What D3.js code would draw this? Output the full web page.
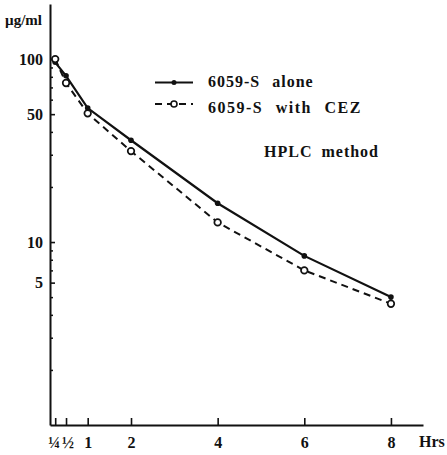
<!DOCTYPE html>
<html><head><meta charset="utf-8">
<script src="https://cdn.jsdelivr.net/npm/d3@7"></script>
<style>
html,body{margin:0;padding:0;background:#fff;}
svg{display:block;}
text{font-family:"Liberation Serif","DejaVu Serif",serif;font-weight:bold;fill:#111;}
</style>
</head><body>
<svg id="chart" width="447" height="455"></svg>
<script>
// ---- data ----
const hours = [0.25, 0.5, 1, 2, 4, 6, 8];
const aloneValues = [96, 81, 54, 36, 16.3, 8.4, 5.0];
const withCezValues = [100, 74, 50.5, 31.4, 12.8, 7.0, 4.6];
const seriesNames = ["6059-S alone", "6059-S with CEZ"];
const xTickValues = [0.25, 0.5, 1, 2, 4, 6, 8];
const xTickLabels = ["¼", "½", "1", "2", "4", "6", "8"];
const yLabelValues = [100, 50, 10, 6];
const yLabelTexts = ["100", "50", "10", "5"];
const yMinorValues = [2, 3, 4, 5, 7, 8, 9, 20, 30, 40, 60, 70, 80, 90];
const yUnit = "µg/ml";
const xUnit = "Hrs";
const noteText = "HPLC method";

const svg = d3.select("#chart");
const ink = "#111";

const x = d3.scaleLinear().domain([0.13, 8.74]).range([50, 423]);
const y = d3.scaleLog().domain([1, 200]).range([425, 4]);

// y axis: minor ticks
svg.append("g").attr("transform", `translate(${x(0.13)},0)`)
  .call(d3.axisLeft(y).tickValues(yMinorValues).tickFormat("").tickSizeInner(-3).tickSizeOuter(0))
  .call(g => g.select(".domain").remove())
  .call(g => g.selectAll("line").attr("stroke", ink).attr("stroke-width", 1.5));

// y axis: labelled ticks
const yAxisG = svg.append("g").attr("transform", `translate(${x(0.13)},0)`)
  .call(d3.axisLeft(y).tickValues(yLabelValues)
    .tickFormat((d) => yLabelTexts[yLabelValues.indexOf(d)])
    .tickSizeInner(-5).tickSizeOuter(0).tickPadding(7));
yAxisG.select(".domain").attr("stroke", ink).attr("stroke-width", 2);
yAxisG.selectAll("line").attr("stroke", ink).attr("stroke-width", 1.6);
yAxisG.selectAll("text").attr("font-size", 16).attr("font-family", "Liberation Serif").attr("font-weight", "bold").attr("fill", ink);

// x axis
const xAxisG = svg.append("g").attr("transform", `translate(0,${y(1)})`)
  .call(d3.axisBottom(x).tickValues(xTickValues)
    .tickFormat(d => xTickLabels[xTickValues.indexOf(d)])
    .tickSizeInner(-7).tickSizeOuter(0).tickPadding(12));
xAxisG.select(".domain").attr("stroke", ink).attr("stroke-width", 2);
xAxisG.selectAll("line").attr("stroke", ink).attr("stroke-width", 1.6);
xAxisG.selectAll("text").attr("font-size", 16)
  .attr("dx", d => d === 0.25 ? -1.5 : (d === 0.5 ? 1.5 : 0))
  .attr("font-family", "Liberation Serif").attr("font-weight", "bold").attr("fill", ink);

svg.append("text").attr("x", 419).attr("y", 447).attr("font-size", 16).text(xUnit);
svg.append("text").attr("x", 5).attr("y", 25).attr("font-size", 15).text(yUnit);

// lines
const line = d3.line().x((d, i) => x(hours[i])).y(d => y(d));
svg.append("path").datum(aloneValues).attr("d", line)
  .attr("fill", "none").attr("stroke", ink).attr("stroke-width", 2.2);
svg.append("path").datum(withCezValues).attr("d", line)
  .attr("fill", "none").attr("stroke", ink).attr("stroke-width", 2)
  .attr("stroke-dasharray", "7,5");

svg.append("g").selectAll("circle").data(aloneValues).join("circle")
  .attr("cx", (d, i) => x(hours[i])).attr("cy", d => y(d)).attr("r", 2.8).attr("fill", ink);
svg.append("g").selectAll("circle").data(withCezValues).join("circle")
  .attr("cx", (d, i) => x(hours[i])).attr("cy", d => y(d)).attr("r", 3.3)
  .attr("fill", "#fff").attr("stroke", ink).attr("stroke-width", 1.7);

// legend
const lg = svg.append("g");
lg.append("line").attr("x1", 155).attr("x2", 193).attr("y1", 82.5).attr("y2", 82.5)
  .attr("stroke", ink).attr("stroke-width", 2.2);
lg.append("circle").attr("cx", 174).attr("cy", 82.5).attr("r", 2.5).attr("fill", ink);
lg.append("line").attr("x1", 155).attr("x2", 193).attr("y1", 104).attr("y2", 104)
  .attr("stroke", ink).attr("stroke-width", 2).attr("stroke-dasharray", "7,5");
lg.append("circle").attr("cx", 174).attr("cy", 104).attr("r", 3).attr("fill", "#fff")
  .attr("stroke", ink).attr("stroke-width", 1.6);
lg.append("text").attr("x", 208).attr("y", 87).attr("font-size", 16)
  .attr("letter-spacing", 1).attr("word-spacing", 7).text(seriesNames[0]);
lg.append("text").attr("x", 208).attr("y", 113).attr("font-size", 16)
  .attr("letter-spacing", 1.5).attr("word-spacing", 7).text(seriesNames[1]);
svg.append("text").attr("x", 264).attr("y", 157).attr("font-size", 16)
  .attr("letter-spacing", 1).attr("word-spacing", 4).text(noteText);
</script>
</body></html>
